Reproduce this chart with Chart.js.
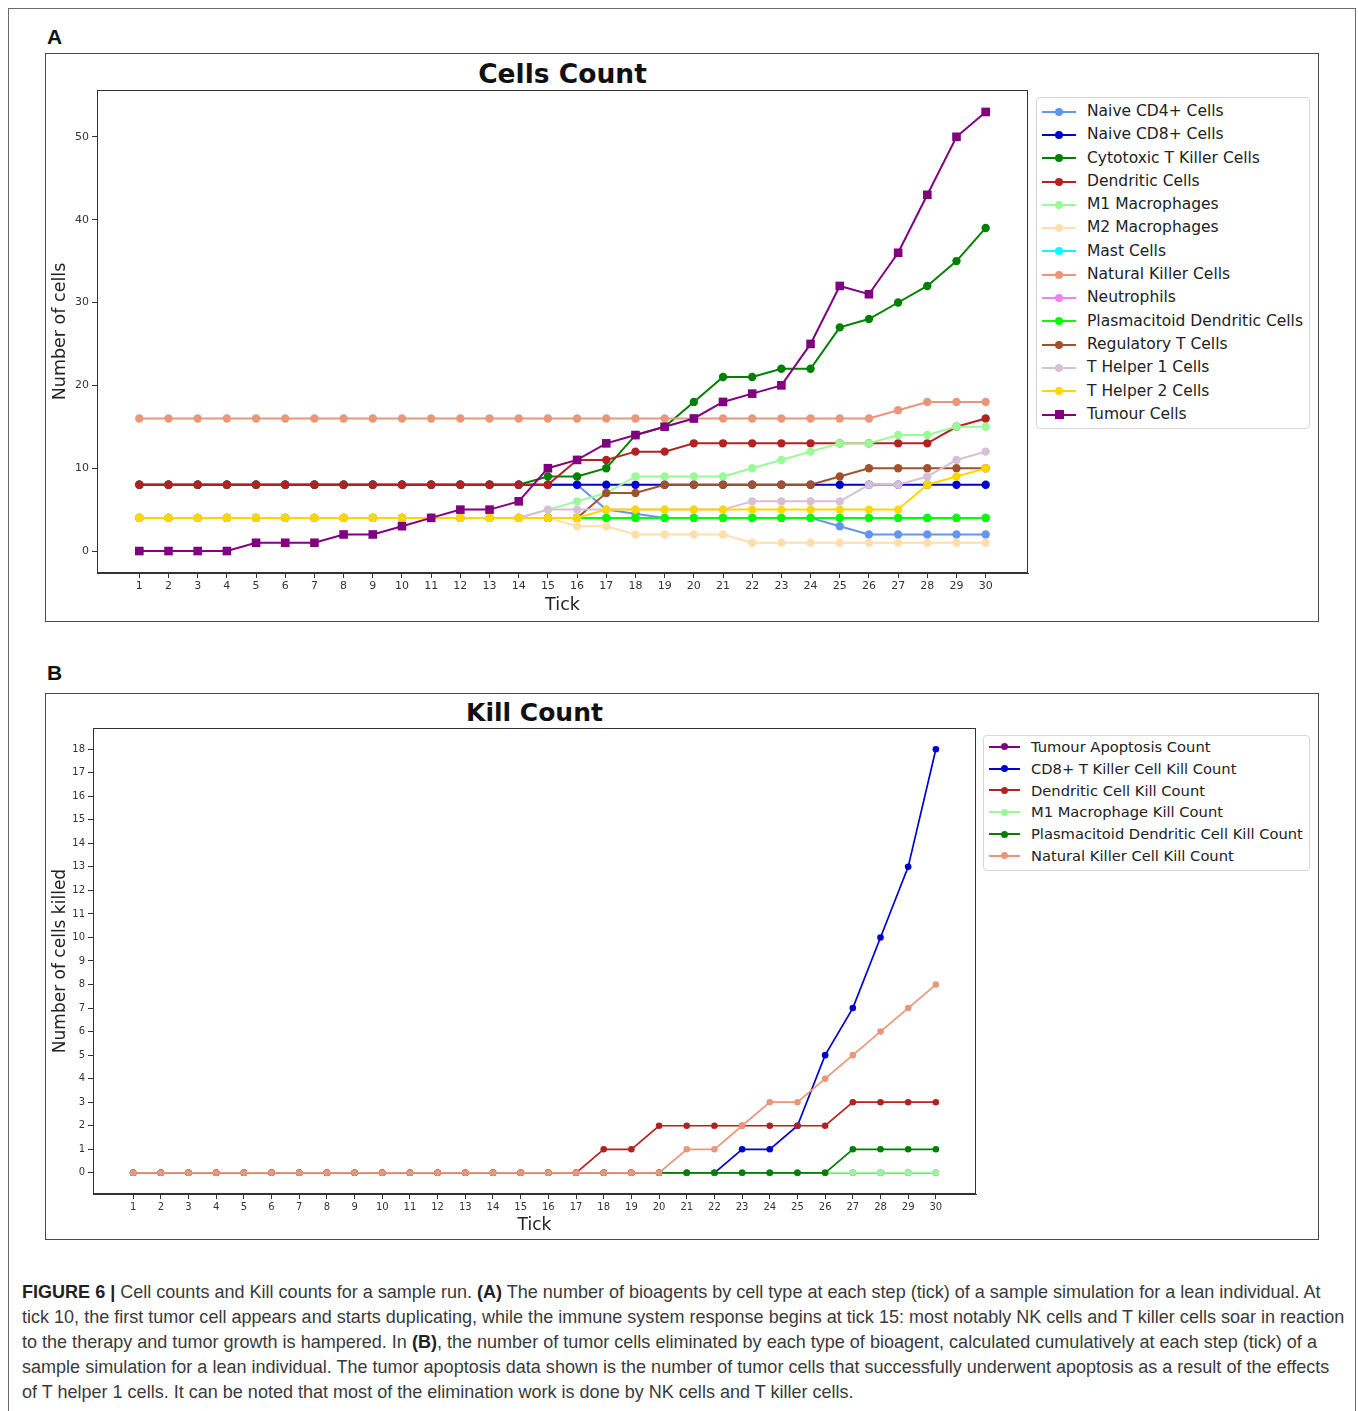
<!DOCTYPE html>
<html>
<head>
<meta charset="utf-8">
<script src="https://cdn.jsdelivr.net/npm/chart.js@4.4.0/dist/chart.umd.min.js"></script>
<style>
  body { margin: 0; background: #fff; width: 1358px; height: 1411px; position: relative; overflow: hidden; font-family: "DejaVu Sans", sans-serif; }
  .frame { position: absolute; left: 8px; top: 8px; width: 1346px; height: 1440px; border: 1.5px solid #6a6a6a; }
  .panel { position: absolute; border: 1.5px solid #4a4a4a; box-sizing: border-box; }
  .letter { position: absolute; font-family: "Liberation Sans", Arial, sans-serif; font-weight: bold; font-size: 21px; color: #111; }
  .title { position: absolute; text-align: center; font-weight: bold; color: #111; }
  .box { position: absolute; }
  .legend { position: absolute; border: 1px solid #d6d6d6; border-radius: 4px; background: #fff; box-sizing: border-box; }
  .row { position: relative; white-space: nowrap; color: #222; }
  .sw { position: absolute; top: 50%; }
  .sw i { position: absolute; left: 0; top: -1px; height: 2px; }
  .sw b { position: absolute; }
  .caption { position: absolute; left: 22px; top: 1280px; font-family: "Liberation Sans", Arial, sans-serif; font-size: 18.05px; line-height: 25px; color: #3a3a3a; white-space: nowrap; }
  .caption strong { color: #222; }
</style>
</head>
<body>
<div class="frame"></div>

<div class="letter" style="left:47px; top:25px;">A</div>
<div class="panel" style="left:45px; top:53px; width:1274px; height:569px;"></div>
<div class="title" style="left:97px; width:931px; top:58px; font-size:26.5px;">Cells Count</div>
<div class="box" style="left:46px; top:54px; width:990px; height:566px;"><canvas id="chartA"></canvas></div>
<div id="legendA" class="legend" style="left:1036px; top:97px; width:274px; height:332px;"></div>

<div class="letter" style="left:47px; top:661px;">B</div>
<div class="panel" style="left:45px; top:693px; width:1274px; height:547px;"></div>
<div class="title" style="left:93px; width:883px; top:698px; font-size:25px;">Kill Count</div>
<div class="box" style="left:46px; top:694px; width:934px; height:544px;"><canvas id="chartB"></canvas></div>
<div id="legendB" class="legend" style="left:983px; top:735px; width:327px; height:136px;"></div>

<div class="caption">
<strong>FIGURE 6 |</strong> Cell counts and Kill counts for a sample run. <strong>(A)</strong> The number of bioagents by cell type at each step (tick) of a sample simulation for a lean individual. At<br>
tick 10, the first tumor cell appears and starts duplicating, while the immune system response begins at tick 15: most notably NK cells and T killer cells soar in reaction<br>
to the therapy and tumor growth is hampered. In <strong>(B)</strong>, the number of tumor cells eliminated by each type of bioagent, calculated cumulatively at each step (tick) of a<br>
sample simulation for a lean individual. The tumor apoptosis data shown is the number of tumor cells that successfully underwent apoptosis as a result of the effects<br>
of T helper 1 cells. It can be noted that most of the elimination work is done by NK cells and T killer cells.
</div>

<script>
// ---- data ----
const ticks = [1, 2, 3, 4, 5, 6, 7, 8, 9, 10, 11, 12, 13, 14, 15, 16, 17, 18, 19, 20, 21, 22, 23, 24, 25, 26, 27, 28, 29, 30];
const yTicksA = [0, 10, 20, 30, 40, 50];
const yTicksB = [0, 1, 2, 3, 4, 5, 6, 7, 8, 9, 10, 11, 12, 13, 14, 15, 16, 17, 18];

// Cells Count
const namesA = ['Naive CD4+ Cells', 'Naive CD8+ Cells', 'Cytotoxic T Killer Cells', 'Dendritic Cells',
  'M1 Macrophages', 'M2 Macrophages', 'Mast Cells', 'Natural Killer Cells', 'Neutrophils',
  'Plasmacitoid Dendritic Cells', 'Regulatory T Cells', 'T Helper 1 Cells', 'T Helper 2 Cells', 'Tumour Cells'];
const colorsA = ['#6495ED', '#0000CD', '#008000', '#B22222', '#98FB98', '#FFDEAD', '#00FFFF',
  '#E9967A', '#EE82EE', '#00FF00', '#A0522D', '#D8BFD8', '#FFD700', '#800080'];

const naiveCD4 = [8, 8, 8, 8, 8, 8, 8, 8, 8, 8, 8, 8, 8, 8, 8, 8, 5, 4.5, 4, 4, 4, 4, 4, 4, 3, 2, 2, 2, 2, 2];
const naiveCD8 = [8, 8, 8, 8, 8, 8, 8, 8, 8, 8, 8, 8, 8, 8, 8, 8, 8, 8, 8, 8, 8, 8, 8, 8, 8, 8, 8, 8, 8, 8];
const cytotoxic = [8, 8, 8, 8, 8, 8, 8, 8, 8, 8, 8, 8, 8, 8, 9, 9, 10, 14, 15, 18, 21, 21, 22, 22, 27, 28, 30, 32, 35, 39];
const dendritic = [8, 8, 8, 8, 8, 8, 8, 8, 8, 8, 8, 8, 8, 8, 8, 11, 11, 12, 12, 13, 13, 13, 13, 13, 13, 13, 13, 13, 15, 16];
const m1 = [4, 4, 4, 4, 4, 4, 4, 4, 4, 4, 4, 4, 4, 4, 5, 6, 7, 9, 9, 9, 9, 10, 11, 12, 13, 13, 14, 14, 15, 15];
const m2 = [4, 4, 4, 4, 4, 4, 4, 4, 4, 4, 4, 4, 4, 4, 4, 3, 3, 2, 2, 2, 2, 1, 1, 1, 1, 1, 1, 1, 1, 1];
const mast = [4, 4, 4, 4, 4, 4, 4, 4, 4, 4, 4, 4, 4, 4, 4, 4, 4, 4, 4, 4, 4, 4, 4, 4, 4, 4, 4, 4, 4, 4];
const naturalKiller = [16, 16, 16, 16, 16, 16, 16, 16, 16, 16, 16, 16, 16, 16, 16, 16, 16, 16, 16, 16, 16, 16, 16, 16, 16, 16, 17, 18, 18, 18];
const neutrophils = [4, 4, 4, 4, 4, 4, 4, 4, 4, 4, 4, 4, 4, 4, 4, 4, 4, 4, 4, 4, 4, 4, 4, 4, 4, 4, 4, 4, 4, 4];
const plasmacitoid = [4, 4, 4, 4, 4, 4, 4, 4, 4, 4, 4, 4, 4, 4, 4, 4, 4, 4, 4, 4, 4, 4, 4, 4, 4, 4, 4, 4, 4, 4];
const regulatory = [4, 4, 4, 4, 4, 4, 4, 4, 4, 4, 4, 4, 4, 4, 4, 4, 7, 7, 8, 8, 8, 8, 8, 8, 9, 10, 10, 10, 10, 10];
const tHelper1 = [4, 4, 4, 4, 4, 4, 4, 4, 4, 4, 4, 4, 4, 4, 5, 5, 5, 5, 5, 5, 5, 6, 6, 6, 6, 8, 8, 9, 11, 12];
const tHelper2 = [4, 4, 4, 4, 4, 4, 4, 4, 4, 4, 4, 4, 4, 4, 4, 4, 5, 5, 5, 5, 5, 5, 5, 5, 5, 5, 5, 8, 9, 10];
const tumour = [0, 0, 0, 0, 1, 1, 1, 2, 2, 3, 4, 5, 5, 6, 10, 11, 13, 14, 15, 16, 18, 19, 20, 25, 32, 31, 36, 43, 50, 53];
const seriesA = [naiveCD4, naiveCD8, cytotoxic, dendritic, m1, m2, mast, naturalKiller, neutrophils,
  plasmacitoid, regulatory, tHelper1, tHelper2, tumour];

// Kill Count
const namesB = ['Tumour Apoptosis Count', 'CD8+ T Killer Cell Kill Count', 'Dendritic Cell Kill Count',
  'M1 Macrophage Kill Count', 'Plasmacitoid Dendritic Cell Kill Count', 'Natural Killer Cell Kill Count'];
const colorsB = ['#800080', '#0000CD', '#B22222', '#98FB98', '#008000', '#E9967A'];

const apoptosisKill = [0, 0, 0, 0, 0, 0, 0, 0, 0, 0, 0, 0, 0, 0, 0, 0, 0, 0, 0, 0, 0, 0, 0, 0, 0, 0, 0, 0, 0, 0];
const cd8Kill = [0, 0, 0, 0, 0, 0, 0, 0, 0, 0, 0, 0, 0, 0, 0, 0, 0, 0, 0, 0, 0, 0, 1, 1, 2, 5, 7, 10, 13, 18];
const dendriticKill = [0, 0, 0, 0, 0, 0, 0, 0, 0, 0, 0, 0, 0, 0, 0, 0, 0, 1, 1, 2, 2, 2, 2, 2, 2, 2, 3, 3, 3, 3];
const m1Kill = [0, 0, 0, 0, 0, 0, 0, 0, 0, 0, 0, 0, 0, 0, 0, 0, 0, 0, 0, 0, 0, 0, 0, 0, 0, 0, 0, 0, 0, 0];
const plasmaKill = [0, 0, 0, 0, 0, 0, 0, 0, 0, 0, 0, 0, 0, 0, 0, 0, 0, 0, 0, 0, 0, 0, 0, 0, 0, 0, 1, 1, 1, 1];
const nkKill = [0, 0, 0, 0, 0, 0, 0, 0, 0, 0, 0, 0, 0, 0, 0, 0, 0, 0, 0, 0, 1, 1, 2, 3, 3, 4, 5, 6, 7, 8];
const seriesB = [apoptosisKill, cd8Kill, dendriticKill, m1Kill, plasmaKill, nkKill];

// ---- helpers ----
Chart.defaults.font.family = '"DejaVu Sans", sans-serif';
Chart.defaults.color = '#333';

const frame = {
  id: 'frame',
  afterDraw(chart) {
    const a = chart.chartArea, ctx = chart.ctx;
    ctx.save();
    ctx.strokeStyle = '#333';
    ctx.lineWidth = 1;
    ctx.strokeRect(a.left + 0.5, a.top + 0.5, a.right - a.left - 1, a.bottom - a.top - 1);
    ctx.restore();
  }
};

function buildDatasets(names, colors, series, radius, lineWidth, squareIdx) {
  return names.map((name, i) => ({
    label: name,
    data: series[i].map((v, j) => ({ x: ticks[j], y: v })),
    borderColor: colors[i],
    backgroundColor: colors[i],
    borderWidth: lineWidth,
    pointStyle: i === squareIdx ? 'rect' : 'circle',
    pointRadius: i === squareIdx ? radius * 1.45 : radius,
    pointBorderWidth: 0,
    tension: 0,
    order: names.length - i
  }));
}

function axes(cfg) {
  const grid = { display: true, drawOnChartArea: false, drawTicks: true, tickLength: 5, color: '#333' };
  return {
    x: {
      type: 'linear', min: -0.45, max: 31.45,
      afterBuildTicks: s => { s.ticks = ticks.map(v => ({ value: v })); },
      afterFit: s => { s.height = cfg.xh; },
      ticks: { autoSkip: false, maxRotation: 0, font: { size: cfg.tickFont }, color: '#333', padding: 2 },
      grid: grid,
      border: { display: true, color: '#333' },
      title: { display: true, text: 'Tick', color: '#222', font: { size: cfg.labelFont }, padding: { top: 0, bottom: cfg.xtPad } }
    },
    y: {
      type: 'linear', min: cfg.ymin, max: cfg.ymax,
      afterBuildTicks: s => { s.ticks = cfg.yTicks.map(v => ({ value: v })); },
      afterFit: s => { s.width = cfg.yw; },
      ticks: { font: { size: cfg.tickFont }, color: '#333', padding: 3 },
      grid: grid,
      border: { display: true, color: '#333' },
      title: { display: true, text: cfg.ylabel, color: '#222', font: { size: cfg.labelFont }, padding: { top: 4, bottom: 0 } }
    }
  };
}

function legendHtml(el, names, colors, rowH, fontSize, swLeft, swW, textLeft, dot, squareIdx, padTop) {
  el.innerHTML = names.map((n, i) => {
    const c = colors[i];
    const d = i === squareIdx ? dot + 1 : dot;
    const shape = i === squareIdx ? '' : 'border-radius:50%;';
    return `<div class="row" style="height:${rowH}px;line-height:${rowH}px;font-size:${fontSize}px;padding-left:${textLeft}px;">
      <span class="sw" style="left:${swLeft}px;width:${swW}px;">
        <i style="width:${swW}px;background:${c};"></i>
        <b style="left:${swW / 2 - d / 2}px;top:${-d / 2}px;width:${d}px;height:${d}px;background:${c};${shape}"></b>
      </span>${n}</div>`;
  }).join('');
  el.style.paddingTop = padTop + 'px';
}

// ---- Cells Count ----
new Chart(document.getElementById('chartA'), {
  type: 'line',
  data: { datasets: buildDatasets(namesA, colorsA, seriesA, 4.2, 2, 13) },
  options: {
    responsive: true, maintainAspectRatio: false, animation: false,
    layout: { padding: { left: 0, top: 36, right: 8, bottom: 0 } },
    plugins: { legend: { display: false }, tooltip: { enabled: false } },
    scales: axes({ xh: 47, yw: 51, tickFont: 11, labelFont: 17.5, xtPad: 4, ymin: -2.65, ymax: 55.65, yTicks: yTicksA, ylabel: 'Number of cells' })
  },
  plugins: [frame]
});

// ---- Kill Count ----
new Chart(document.getElementById('chartB'), {
  type: 'line',
  data: { datasets: buildDatasets(namesB, colorsB, seriesB, 3.3, 1.7, -1) },
  options: {
    responsive: true, maintainAspectRatio: false, animation: false,
    layout: { padding: { left: 0, top: 34, right: 4, bottom: 0 } },
    plugins: { legend: { display: false }, tooltip: { enabled: false } },
    scales: axes({ xh: 44, yw: 47, tickFont: 10, labelFont: 17, xtPad: 2, ymin: -0.9, ymax: 18.9, yTicks: yTicksB, ylabel: 'Number of cells killed' })
  },
  plugins: [frame]
});

legendHtml(document.getElementById('legendA'), namesA, colorsA, 23.3, 15.5, 5, 34, 50, 8, 13, 2);
legendHtml(document.getElementById('legendB'), namesB, colorsB, 21.8, 14.7, 5, 31, 47, 7, -1, 0);
</script>
</body>
</html>
